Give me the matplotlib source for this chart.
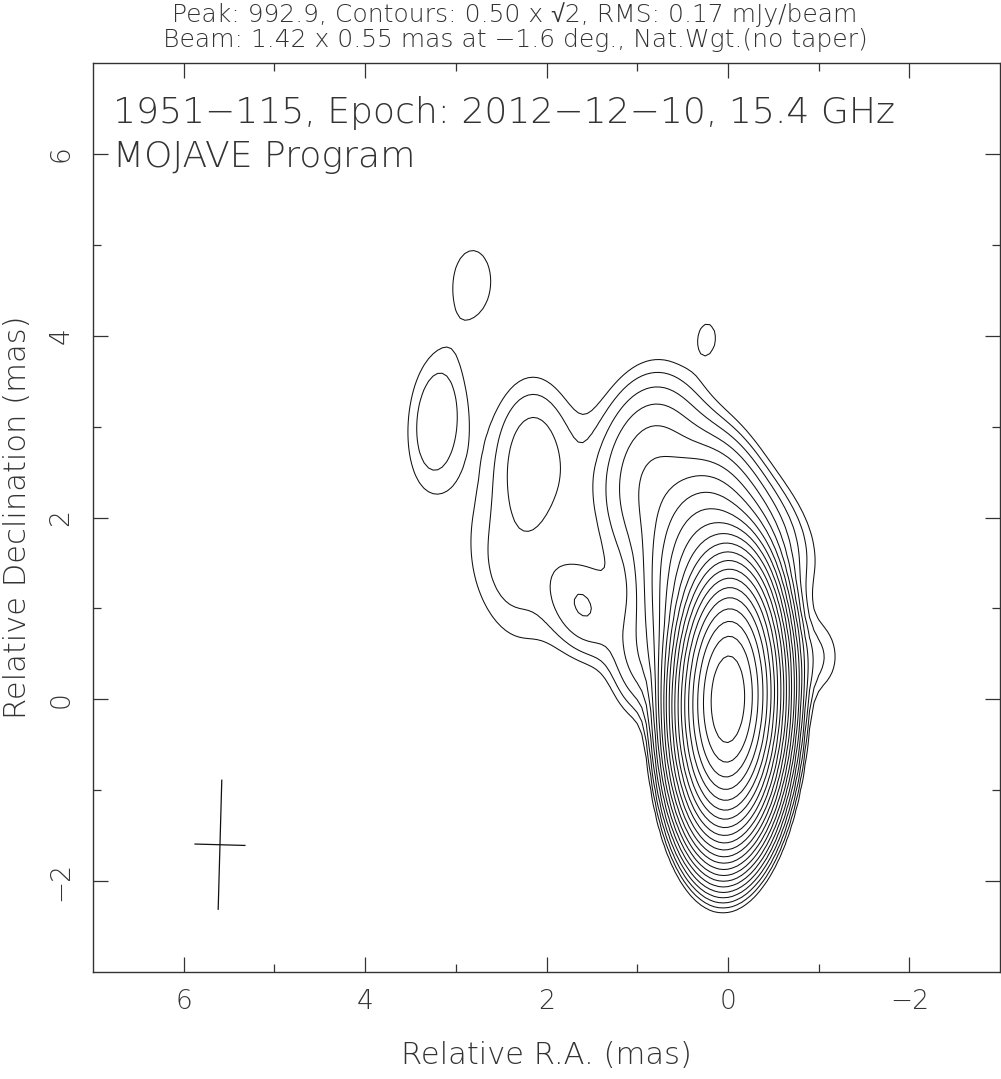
import numpy as np
import matplotlib
matplotlib.use('Agg')
import matplotlib.pyplot as plt

plt.rcParams['font.family'] = ['DejaVu Sans', 'Liberation Sans', 'Noto Sans']

# map header values
peak = 992.9
base_level = 0.50
rms = 0.17
beam_maj = 1.42
beam_min = 0.55
beam_pa = -1.6
beam_pos = (5.6, -1.6)

# emission components (RA, Dec in mas, peak mJy/beam, FWHM sizes in mas, PA deg)
comp_ra = [0.0, 0.35, 0.85, -0.98, 2.15, 2.45, 1.6, 3.22, 2.81, 0.22, 1.0, -0.45]
comp_dec = [0.0, 1.45, 2.4, 0.45, 2.6, 1.25, 1.0, 3.08, 4.62, 4.0, 0.4, 1.9]
comp_peak = [990.0, 10.0, 2.8, 0.7, 1.3, 0.65, 1.25, 0.95, 0.65, 0.52, 1.0, 1.2]
comp_maj = [1.42, 1.5, 1.7, 0.8, 1.6, 1.7, 1.0, 1.5, 1.0, 0.5, 1.0, 1.3]
comp_min = [0.55, 0.7, 0.95, 0.55, 0.8, 0.85, 0.6, 0.62, 0.6, 0.3, 0.5, 0.7]
comp_pa = [-1.6, -10.0, -5.0, 0.0, 0.0, 20.0, 20.0, -5.0, 0.0, 0.0, 0.0, 30.0]

title_lines = ["Peak: 992.9, Contours: 0.50 x \u221a2, RMS: 0.17 mJy/beam",
               "Beam: 1.42 x 0.55 mas at \u22121.6 deg., Nat.Wgt.(no taper)"]
source_text = "1951\u2212115, Epoch: 2012\u221212\u221210, 15.4 GHz"
program_text = "MOJAVE Program"

# build the map on a grid
ra = np.arange(7.0, -3.0001, -0.05)
dec = np.arange(-3.0, 7.0001, 0.05)
RA, DEC = np.meshgrid(ra, dec)
img = np.zeros_like(RA)
for x0, y0, p, bmaj, bmin, pa in zip(comp_ra, comp_dec, comp_peak, comp_maj, comp_min, comp_pa):
    t = np.deg2rad(pa)
    dx = RA - x0
    dy = DEC - y0
    u = dx * np.cos(t) - dy * np.sin(t)   # along minor
    v = dx * np.sin(t) + dy * np.cos(t)   # along major
    sx = bmin / 2.3548
    sy = bmaj / 2.3548
    img += p * np.exp(-0.5 * ((u / sx) ** 2 + (v / sy) ** 2))

levels = [base_level * np.sqrt(2) ** n for n in range(40) if base_level * np.sqrt(2) ** n <= peak]

fig = plt.figure(figsize=(10.01, 10.79), dpi=100)
ax = fig.add_axes([93 / 1001, 107 / 1079, 907 / 1001, 909 / 1079])
ax.contour(RA, DEC, img, levels=levels, colors='#111111', linewidths=0.75)

# beam cross
t = np.deg2rad(beam_pa)
bx, by = beam_pos
ax.plot([bx + 0.5 * beam_maj * np.sin(t), bx - 0.5 * beam_maj * np.sin(t)],
        [by + 0.5 * beam_maj * np.cos(t), by - 0.5 * beam_maj * np.cos(t)], color='#111111', lw=0.9)
ax.plot([bx + 0.5 * beam_min * np.cos(t), bx - 0.5 * beam_min * np.cos(t)],
        [by - 0.5 * beam_min * np.sin(t), by + 0.5 * beam_min * np.sin(t)], color='#111111', lw=0.9)

ax.set_xlim(7, -3)
ax.set_ylim(-3, 7)
ax.set_xticks([6, 4, 2, 0, -2])
ax.set_yticks([-2, 0, 2, 4, 6])
ax.set_xticks([5, 3, 1, -1], minor=True)
ax.set_yticks([-1, 1, 3, 5], minor=True)
ax.tick_params(which='both', direction='in', top=True, right=True, color='#333333', width=0.9)
ax.tick_params(which='major', length=11)
ax.tick_params(which='minor', length=6)
ax.tick_params(axis='x', labelsize=19, pad=12, labelcolor='#333333')
ax.tick_params(axis='y', labelsize=19, pad=14, labelcolor='#333333')
for lab in ax.get_xticklabels() + ax.get_yticklabels():
    lab.set_fontweight('light')
for lab in ax.get_yticklabels():
    lab.set_rotation(90)
    lab.set_va('center')
for s in ax.spines.values():
    s.set_color('#333333')
    s.set_linewidth(1.0)

ax.set_xlabel("Relative R.A. (mas)", fontsize=22, color='#333333', labelpad=20, fontweight='light')
ax.set_ylabel("Relative Declination (mas)", fontsize=22, color='#333333', labelpad=12, fontweight='light')

fig.text(515 / 1001, 1 - 22 / 1079, title_lines[0], ha='center', va='baseline', fontsize=18,
         color='#333333', fontweight='light')
fig.text(515 / 1001, 1 - 47 / 1079, title_lines[1], ha='center', va='baseline', fontsize=18,
         color='#333333', fontweight='light')
ax.text(113 / 1001, 1 - 123 / 1079, source_text, transform=fig.transFigure, fontsize=26,
        color='#333333', fontweight='light', va='baseline')
ax.text(113 / 1001, 1 - 167 / 1079, program_text, transform=fig.transFigure, fontsize=26,
        color='#333333', fontweight='light', va='baseline')

fig.savefig('out.png', dpi=100)
